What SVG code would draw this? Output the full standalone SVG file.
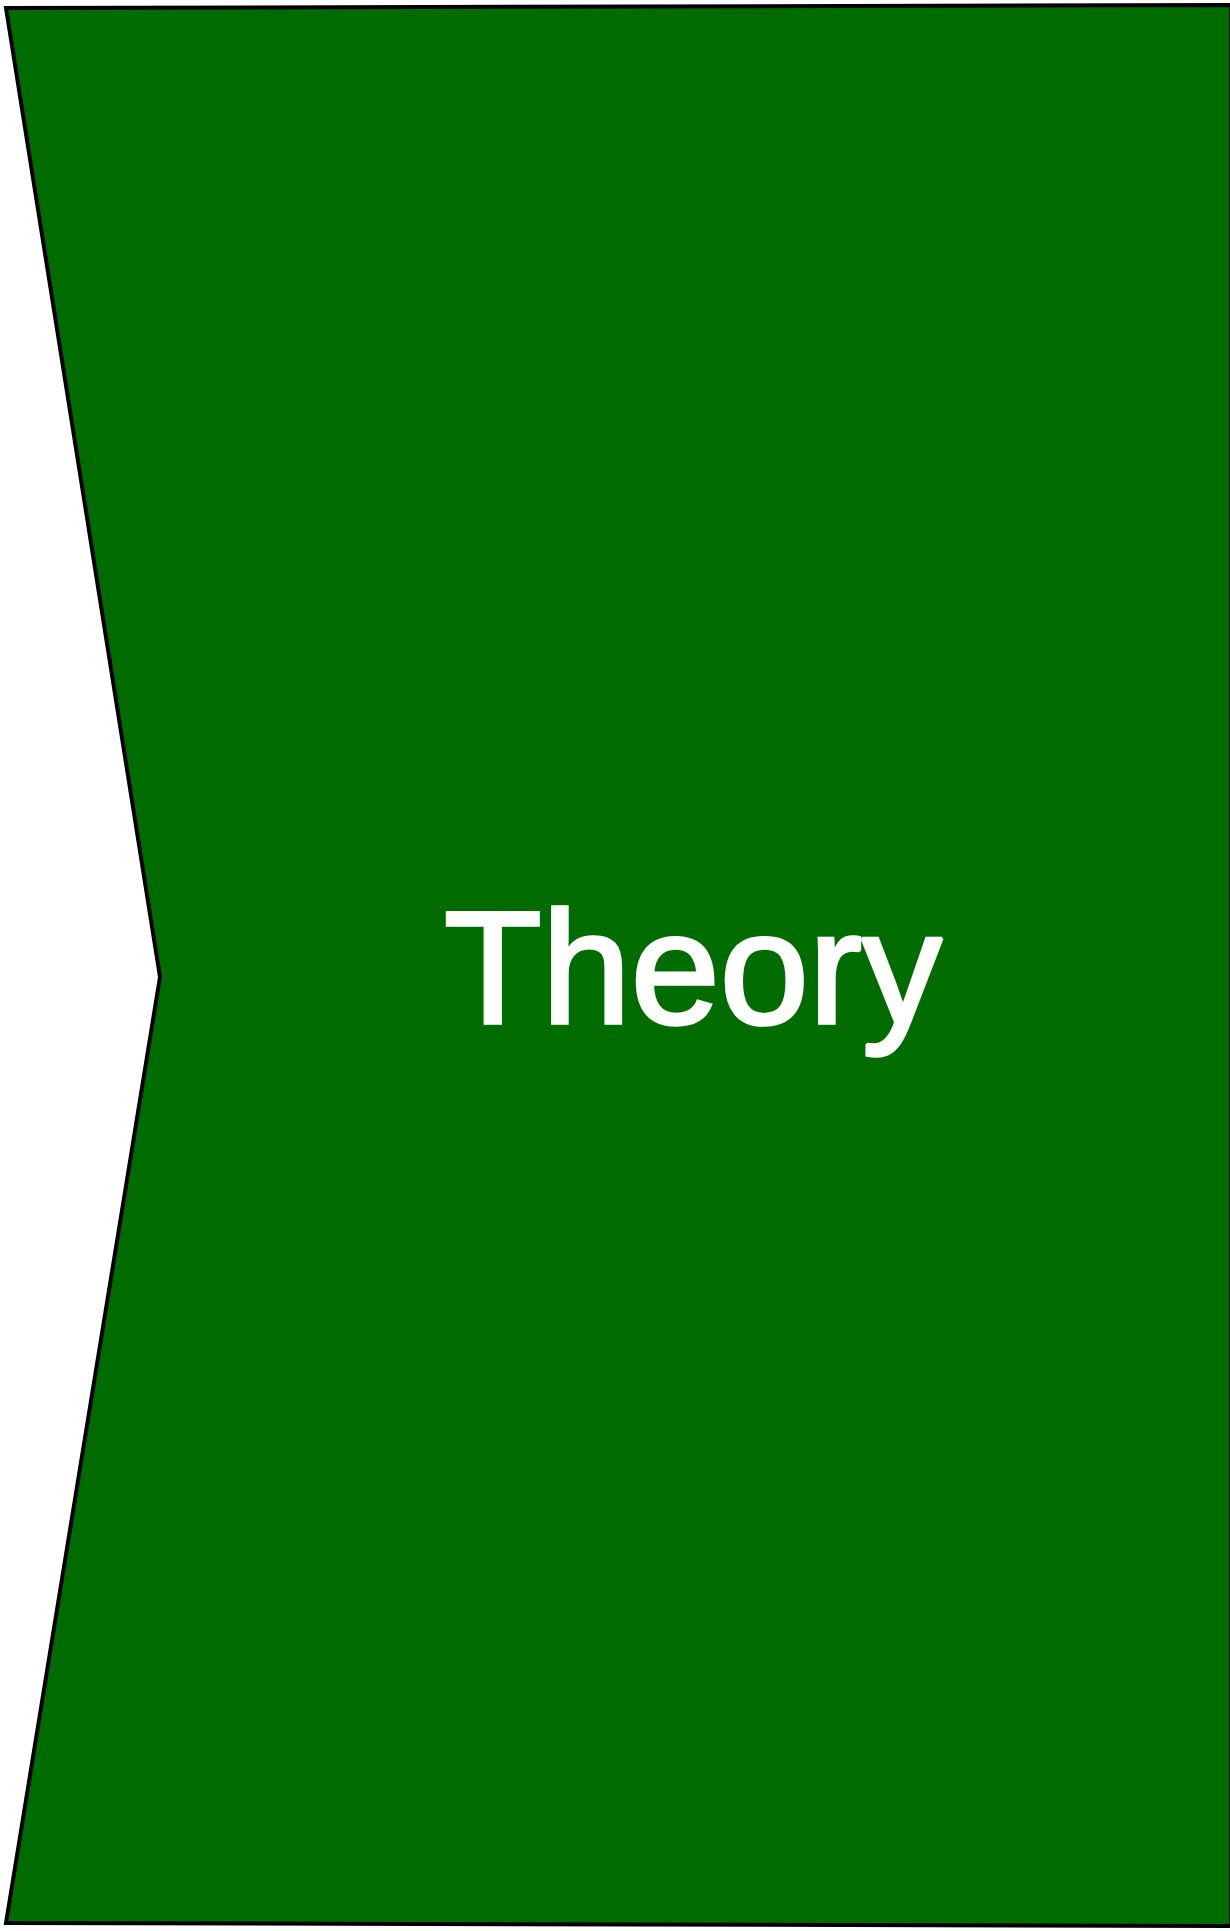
<svg xmlns="http://www.w3.org/2000/svg" width="1230" height="1931" viewBox="0 0 1230 1931">
<style>
.shape{fill:#006c00;stroke:#000;stroke-width:4;stroke-linejoin:miter}
.label{font-family:"Liberation Sans",Arial,Helvetica,sans-serif;font-size:160px;fill:#fff;stroke:#fff;stroke-width:3.5;stroke-linejoin:miter;stroke-miterlimit:1.5;text-anchor:middle}
</style>
<rect width="1230" height="1931" fill="#fff"/>
<g id="node-theory">
<polygon class="shape" points="6,8 1231,5 1231,1926 6,1923 160,977"/>
<text class="label" x="693" y="1022.5">Theory</text>
</g>
<g id="connectors"/>
</svg>
